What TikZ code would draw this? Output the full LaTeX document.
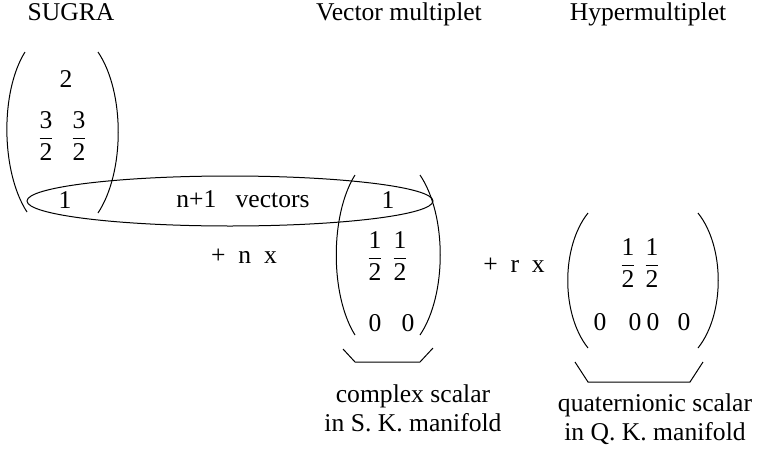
\documentclass[tikz,border=0pt]{standalone}
\usepackage{amsmath}
\usepackage{fontspec}
\setmainfont{Liberation Serif}
\usepackage{tikz}
\usetikzlibrary{positioning,calc}

\begin{document}
\begin{tikzpicture}[x=0.5pt,y=-0.5pt,font=\fontsize{12.8}{14.5}\selectfont,
  lbl/.style={inner sep=0pt,anchor=base},
  entry/.style={inner sep=0pt},
  paren/.style={line width=0.5pt},
  brace/.style={line width=0.5pt},
  scalar/.style={lbl,align=center}]

  \useasboundingbox (0,0) rectangle (757,456);

  % ==========================================
  % HEADINGS
  % ==========================================
  \node[lbl] (sugra) at (71,20) {SUGRA};
  \node[lbl] (vec) at (399,20) {Vector multiplet};
  \node[lbl] (hyp) at (648,20) {Hypermultiplet};

  % ==========================================
  % SUGRA MULTIPLET
  % ==========================================
  \node[entry] (s2) at (66,79) {2};
  \node[entry] (s3a) at (46,136) {$\dfrac{\text{3}}{\text{2}}$};
  \node[entry] (s3b) at (79,136) {$\dfrac{\text{3}}{\text{2}}$};
  \node[entry] (s1) at (65,200) {1};

  \draw[paren] (25,52) .. controls (0,92) and (1,172) .. (27,212);
  \draw[paren] (98,52) .. controls (125,92) and (125,172) .. (98,213);

  % vectors collected in one ellipse
  \draw[line width=0.5pt] (230,201) ellipse [x radius=203,y radius=25];
  \node[lbl] (nvec) at (243,207) {n+1\ \ \ vectors};

  % ==========================================
  % VECTOR MULTIPLETS
  % ==========================================
  \node[lbl] (nx) at (244,263) {+\ \ n\ \ x};

  \node[entry] (v1) at (388,200) {1};
  \node[entry] (vha) at (375,256) {$\dfrac{\text{1}}{\text{2}}$};
  \node[entry] (vhb) at (400,256) {$\dfrac{\text{1}}{\text{2}}$};
  \node[entry] (v0a) at (375,323) {0};
  \node[entry] (v0b) at (408,323) {0};

  \draw[paren] (355,175) .. controls (330,215) and (330,295) .. (355,335);
  \draw[paren] (420,175) .. controls (447,215) and (447,295) .. (420,335);

  % complex scalar brace
  \coordinate (vb1) at (343,349);
  \coordinate (vb2) at (355,362);
  \coordinate (vb3) at (420,362);
  \coordinate (vb4) at (433,348);
  \draw[brace] (vb1) -- (vb2) -- (vb3) -- (vb4);
  \node[scalar] (cplx) at (413,431) {complex scalar\\in S. K. manifold};

  % ==========================================
  % HYPERMULTIPLETS
  % ==========================================
  \node[lbl] (rx) at (514,272) {+\ \ r\ \ x};

  \node[entry] (hha) at (628,263) {$\dfrac{\text{1}}{\text{2}}$};
  \node[entry] (hhb) at (652,263) {$\dfrac{\text{1}}{\text{2}}$};
  \foreach \x/\n in {600/a,635/b,653/c,684/d}
    \node[entry] (h0\n) at (\x,322) {0};

  \draw[paren] (588,213) .. controls (561,247) and (561,314) .. (588,348);
  \draw[paren] (698,213) .. controls (725,247) and (725,314) .. (698,348);

  % quaternionic scalar brace
  \coordinate (hb1) at (575,362);
  \coordinate (hb2) at (588,382);
  \coordinate (hb3) at (690,382);
  \coordinate (hb4) at (703,362);
  \draw[brace] (hb1) -- (hb2) -- (hb3) -- (hb4);
  \node[scalar] (quat) at (655,440) {quaternionic scalar\\in Q. K. manifold};

\end{tikzpicture}
\end{document}
